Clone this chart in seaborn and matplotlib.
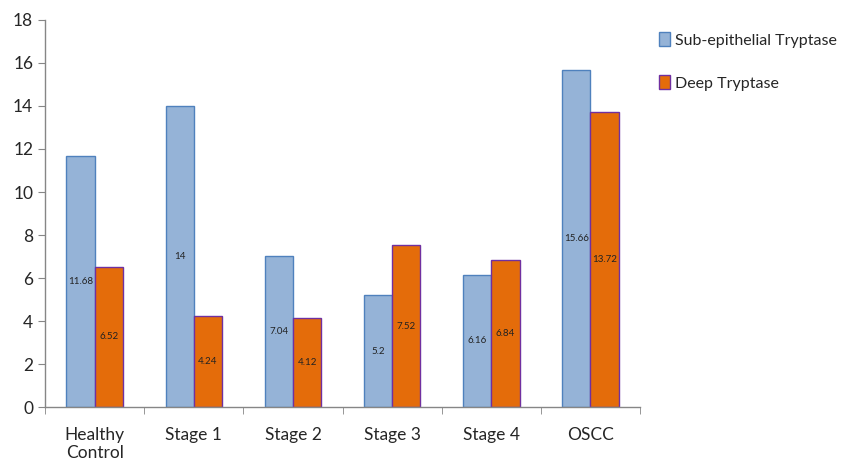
import pandas as pd
import seaborn as sns
import matplotlib
matplotlib.use('Agg')
import matplotlib.pyplot as plt
from matplotlib.ticker import FixedLocator

categories = ["Healthy\nControl", "Stage 1", "Stage 2", "Stage 3", "Stage 4", "OSCC"]
sub_epithelial = [11.68, 14, 7.04, 5.2, 6.16, 15.66]
deep = [6.52, 4.24, 4.12, 7.52, 6.84, 13.72]
series = ["Sub-epithelial Tryptase", "Deep Tryptase"]

df = pd.DataFrame({
    "group": categories * 2,
    "value": sub_epithelial + deep,
    "series": [series[0]] * len(categories) + [series[1]] * len(categories),
})

sns.set_style("white")
plt.rcParams['font.family'] = ['Lato', 'DejaVu Sans']

fills = ["#95B3D7", "#E46C0A"]
edges = ["#4F81BD", "#7030A0"]

fig = plt.figure(figsize=(8.5, 4.75), dpi=100)
ax = fig.add_axes([0.053, 0.143, 0.70, 0.815])
sns.barplot(data=df, x="group", y="value", hue="series", palette=fills,
            saturation=1, width=0.57, ax=ax, legend=True)

for cont, ec in zip(ax.containers, edges):
    for bar in cont:
        bar.set_edgecolor(ec)
        bar.set_linewidth(1.0)
    labels = [f"{v:g}" for v in cont.datavalues]
    ax.bar_label(cont, labels=labels, label_type='center', fontsize=7, color="#222222")

ax.set_ylim(0, 18)
ax.set_yticks(range(0, 19, 2))
ax.set_xlim(-0.5, 5.5)
ax.set_xlabel("")
ax.set_ylabel("")
sns.despine(ax=ax)
for s in ["left", "bottom"]:
    ax.spines[s].set_color("#868686")
    ax.spines[s].set_linewidth(1.0)

ax.tick_params(axis='y', which='major', left=True, length=5, color="#868686",
               labelsize=12.5, direction='out')
ax.tick_params(axis='x', which='major', length=0, labelsize=12.5, pad=14)
ax.xaxis.set_minor_locator(FixedLocator([i - 0.5 for i in range(len(categories) + 1)]))
ax.tick_params(axis='x', which='minor', bottom=True, length=5, color="#868686", direction='out')

leg = ax.legend(loc='upper left', bbox_to_anchor=(1.008, 1.005), frameon=False,
                fontsize=11.5, handlelength=0.7, handleheight=0.9, handletextpad=0.3,
                labelspacing=1.75)
for patch, ec in zip(leg.get_patches(), edges):
    patch.set_edgecolor(ec)

fig.savefig("out.png", dpi=100)
